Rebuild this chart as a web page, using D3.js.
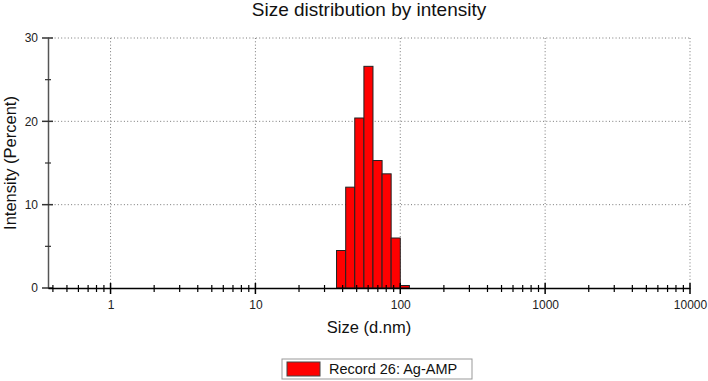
<!DOCTYPE html>
<html>
<head>
<meta charset="utf-8">
<script src="https://cdn.jsdelivr.net/npm/d3@7"></script>
<style>
  body { margin: 0; background: #fff; }
  text { font-family: "Liberation Sans", Arial, sans-serif; }
</style>
</head>
<body>
<div id="chart"></div>
<script>
// bin edges (d.nm) and intensity (%) per bin
var binEdges = [36.3, 42.0, 48.5, 56.1, 64.8, 74.9, 86.5, 100, 115.6],
    intensity = [4.5, 12.1, 20.4, 26.6, 15.3, 13.7, 6.0, 0.3];
var xTicks = [1, 10, 100, 1000, 10000],
    yTicks = [0, 10, 20, 30],
    yMinor = [5, 15, 25];
var title = "Size distribution by intensity",
    xLabel = "Size (d.nm)",
    yLabel = "Intensity (Percent)",
    legendName = "Record 26: Ag-AMP";

var w = 708, h = 381;
var margin = {top: 38, right: 18, bottom: 93, left: 48},
    width = w - margin.left - margin.right,
    height = h - margin.top - margin.bottom;

var svg = d3.select("#chart").append("svg")
    .attr("width", w)
    .attr("height", h);

var x = d3.scaleLog().domain([0.37, 10000]).range([0, width]),
    y = d3.scaleLinear().domain([0, 30]).range([height, 0]);

var g = svg.append("g")
    .attr("transform", "translate(" + margin.left + "," + margin.top + ")");

// minor x ticks 2..9 in each decade
var xMinor = [];
[0.1, 1, 10, 100, 1000].forEach(function(dec) {
  for (var k = 2; k <= 9; k++) {
    var v = dec * k;
    if (v >= 0.37 && v < 10000) xMinor.push(v);
  }
});

// dotted grid
g.selectAll(".vgrid")
  .data(xTicks)
  .enter().append("line")
    .attr("x1", function(d) { return x(d); })
    .attr("x2", function(d) { return x(d); })
    .attr("y1", 0)
    .attr("y2", height)
    .attr("stroke", "#777")
    .attr("stroke-dasharray", "1,2.3");
g.selectAll(".hgrid")
  .data(yTicks.filter(function(d) { return d > 0; }))
  .enter().append("line")
    .attr("x1", 0)
    .attr("x2", width)
    .attr("y1", function(d) { return y(d); })
    .attr("y2", function(d) { return y(d); })
    .attr("stroke", "#777")
    .attr("stroke-dasharray", "1,2.3");

// bars
var bins = intensity.map(function(v, i) {
  return {x0: binEdges[i], x1: binEdges[i + 1], v: v};
});
g.selectAll(".bar")
  .data(bins)
  .enter().append("rect")
    .attr("class", "bar")
    .attr("x", function(d) { return x(d.x0); })
    .attr("y", function(d) { return y(d.v); })
    .attr("width", function(d) { return x(d.x1) - x(d.x0); })
    .attr("height", function(d) { return height - y(d.v); })
    .attr("fill", "#ff0000")
    .attr("stroke", "#222")
    .attr("stroke-width", 1);

// y axis
var yAxis = g.append("g")
    .call(d3.axisLeft(y).tickValues(yTicks).tickSize(0).tickPadding(10));
yAxis.select(".domain").attr("stroke", "#555").attr("stroke-width", 1.5);
yAxis.selectAll("text").style("font-size", "12px").attr("fill", "#222");
g.selectAll(".ymaj")
  .data(yTicks)
  .enter().append("line")
    .attr("x1", -6).attr("x2", 5)
    .attr("y1", function(d) { return y(d); })
    .attr("y2", function(d) { return y(d); })
    .attr("stroke", "#333").attr("stroke-width", 1.5);
g.selectAll(".ymin")
  .data(yMinor)
  .enter().append("line")
    .attr("x1", -3).attr("x2", 3)
    .attr("y1", function(d) { return y(d); })
    .attr("y2", function(d) { return y(d); })
    .attr("stroke", "#333").attr("stroke-width", 1.2);

// x axis
var xAxis = g.append("g")
    .attr("transform", "translate(0," + height + ")")
    .call(d3.axisBottom(x).tickValues(xTicks).tickFormat(d3.format("d")).tickSize(0).tickPadding(12));
xAxis.select(".domain").attr("stroke", "#000").attr("stroke-width", 1.5);
xAxis.selectAll("text").style("font-size", "12px").attr("fill", "#222");
g.selectAll(".xmaj")
  .data(xTicks)
  .enter().append("line")
    .attr("x1", function(d) { return x(d); })
    .attr("x2", function(d) { return x(d); })
    .attr("y1", height - 5).attr("y2", height + 6)
    .attr("stroke", "#000").attr("stroke-width", 1.5);
g.selectAll(".xmin")
  .data(xMinor)
  .enter().append("line")
    .attr("x1", function(d) { return x(d); })
    .attr("x2", function(d) { return x(d); })
    .attr("y1", height - 3).attr("y2", height + 4)
    .attr("stroke", "#000").attr("stroke-width", 1.2);

// title and labels
svg.append("text")
    .attr("x", margin.left + width / 2)
    .attr("y", 16)
    .attr("text-anchor", "middle")
    .style("font-size", "19px")
    .attr("fill", "#111")
    .text(title);
svg.append("text")
    .attr("x", margin.left + width / 2)
    .attr("y", 333)
    .attr("text-anchor", "middle")
    .style("font-size", "16.5px")
    .attr("fill", "#111")
    .text(xLabel);
svg.append("text")
    .attr("transform", "translate(16," + (margin.top + height / 2) + ") rotate(-90)")
    .attr("text-anchor", "middle")
    .style("font-size", "16.5px")
    .attr("fill", "#111")
    .text(yLabel);

// legend
var legend = svg.append("g").attr("transform", "translate(282,359)");
legend.append("rect")
    .attr("width", 190).attr("height", 20)
    .attr("fill", "#fff").attr("stroke", "#999");
legend.append("rect")
    .attr("x", 5).attr("y", 3)
    .attr("width", 33).attr("height", 14)
    .attr("fill", "#ff0000").attr("stroke", "#444");
legend.append("text")
    .attr("x", 47).attr("y", 15)
    .style("font-size", "14.5px")
    .attr("fill", "#111")
    .text(legendName);
</script>
</body>
</html>
